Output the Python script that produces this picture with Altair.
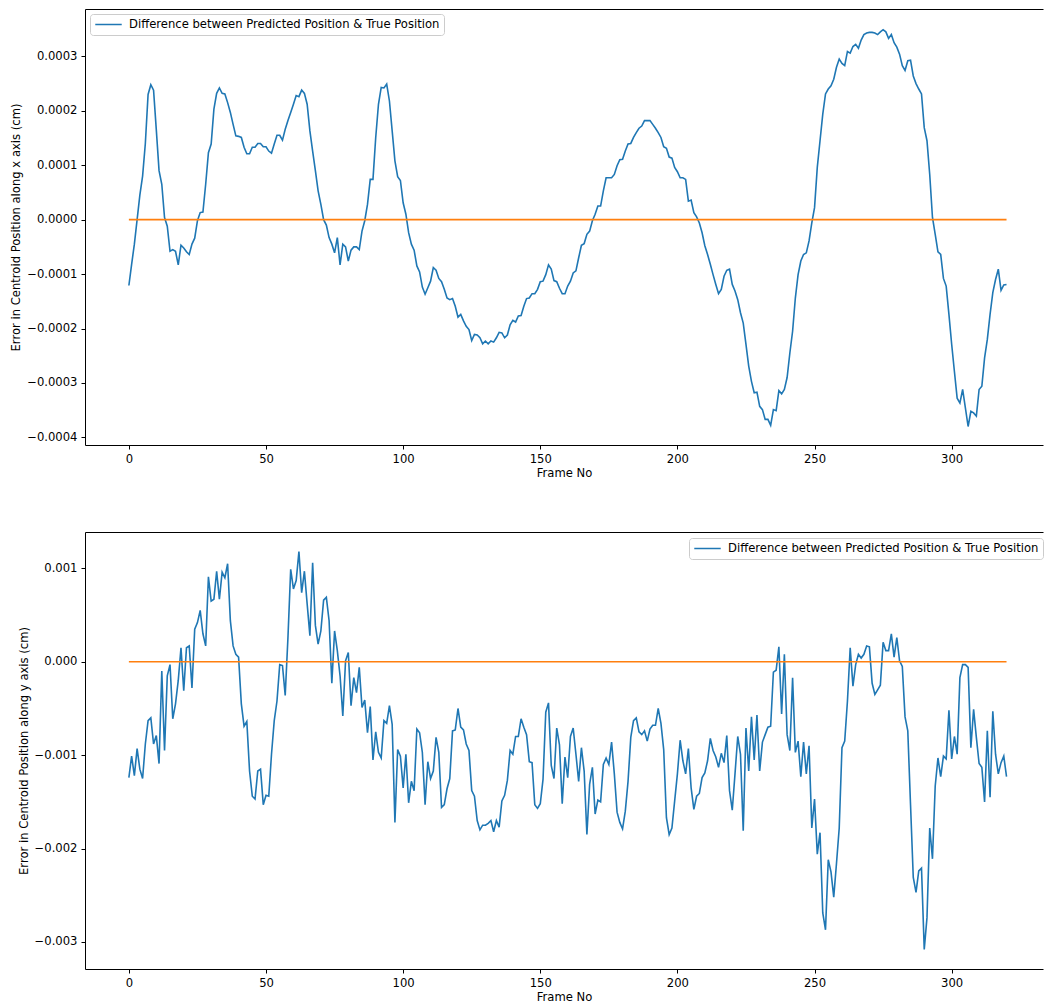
import altair as alt
import pandas as pd

# Centroid error along x for each frame, in units of 1e-4 cm
x_err_e4 = [
    -1.21, -0.82, -0.45, 0.00, 0.45, 0.80, 1.40, 2.30, 2.48, 2.38,
    1.65, 0.90, 0.65, 0.04, -0.12, -0.58, -0.55, -0.58, -0.83, -0.47,
    -0.52, -0.59, -0.64, -0.45, -0.34, -0.02, 0.13, 0.14, 0.65, 1.23,
    1.39, 2.03, 2.32, 2.42, 2.32, 2.31, 2.15, 1.97, 1.75, 1.54,
    1.53, 1.51, 1.33, 1.21, 1.21, 1.33, 1.33, 1.40, 1.40, 1.34,
    1.34, 1.26, 1.22, 1.39, 1.55, 1.55, 1.46, 1.66, 1.82, 1.97,
    2.12, 2.28, 2.26, 2.38, 2.32, 2.12, 1.63, 1.26, 0.90, 0.53,
    0.28, 0.00, -0.10, -0.33, -0.45, -0.61, -0.33, -0.83, -0.45, -0.50,
    -0.76, -0.56, -0.50, -0.50, -0.55, -0.21, -0.02, 0.28, 0.74, 0.74,
    1.51, 2.12, 2.43, 2.42, 2.49, 2.18, 1.63, 1.08, 0.79, 0.72,
    0.31, 0.10, -0.24, -0.45, -0.56, -0.85, -0.96, -1.24, -1.37, -1.25,
    -1.13, -0.88, -0.93, -1.08, -1.14, -1.28, -1.44, -1.47, -1.45, -1.59,
    -1.79, -1.74, -1.86, -1.96, -2.02, -2.22, -2.11, -2.12, -2.17, -2.28,
    -2.23, -2.28, -2.23, -2.25, -2.17, -2.07, -2.08, -2.17, -2.12, -1.93,
    -1.85, -1.88, -1.77, -1.76, -1.59, -1.45, -1.44, -1.36, -1.36, -1.28,
    -1.14, -1.13, -1.01, -0.83, -0.91, -1.12, -1.14, -1.26, -1.36, -1.36,
    -1.22, -1.13, -0.98, -0.94, -0.70, -0.47, -0.44, -0.27, -0.21, -0.02,
    0.10, 0.25, 0.25, 0.53, 0.77, 0.77, 0.77, 0.83, 0.99, 1.10,
    1.11, 1.26, 1.39, 1.40, 1.51, 1.60, 1.68, 1.72, 1.82, 1.82,
    1.82, 1.75, 1.68, 1.60, 1.51, 1.34, 1.31, 1.15, 1.13, 0.96,
    0.88, 0.77, 0.77, 0.74, 0.34, 0.36, 0.13, 0.05, -0.06, -0.24,
    -0.48, -0.64, -0.82, -1.01, -1.19, -1.36, -1.28, -1.04, -0.93, -0.91,
    -1.19, -1.31, -1.47, -1.71, -1.90, -2.29, -2.69, -2.97, -3.18, -3.17,
    -3.43, -3.49, -3.67, -3.67, -3.78, -3.49, -3.51, -3.14, -3.20, -3.12,
    -2.90, -2.45, -2.05, -1.44, -1.01, -0.76, -0.64, -0.61, -0.39, -0.06,
    0.22, 0.96, 1.45, 1.94, 2.31, 2.40, 2.46, 2.58, 2.80, 2.95,
    2.87, 2.83, 3.09, 3.06, 3.18, 3.22, 3.15, 3.30, 3.40, 3.43,
    3.44, 3.44, 3.43, 3.40, 3.45, 3.49, 3.45, 3.33, 3.40, 3.25,
    3.17, 3.04, 2.83, 2.74, 2.92, 2.93, 2.64, 2.50, 2.40, 2.31,
    1.69, 1.45, 0.83, 0.04, -0.27, -0.59, -0.64, -1.08, -1.22, -1.74,
    -2.29, -2.79, -3.28, -3.37, -3.12, -3.46, -3.80, -3.52, -3.55, -3.61,
    -3.12, -3.06, -2.54, -2.20, -1.74, -1.34, -1.10, -0.91, -1.30, -1.20,
    -1.19,
]

# Centroid error along y for each frame, in units of 1e-3 cm
y_err_e3 = [
    -1.24, -1.01, -1.22, -0.93, -1.15, -1.25, -0.88, -0.63, -0.60, -0.88,
    -0.79, -1.09, -0.10, -0.95, -0.15, -0.03, -0.61, -0.45, -0.20, 0.15,
    -0.31, 0.15, 0.17, -0.28, 0.35, 0.42, 0.55, 0.30, 0.17, 0.91,
    0.65, 0.67, 0.97, 0.67, 0.96, 0.90, 1.05, 0.44, 0.17, 0.08,
    0.05, -0.45, -0.69, -0.64, -1.17, -1.44, -1.47, -1.17, -1.15, -1.53,
    -1.43, -1.44, -0.99, -0.63, -0.42, -0.03, -0.04, -0.36, 0.26, 0.99,
    0.78, 0.87, 1.18, 0.74, 0.97, 0.62, 0.28, 1.06, 0.39, 0.19,
    0.33, 0.66, 0.69, 0.44, -0.23, 0.33, 0.12, -0.15, -0.58, 0.01,
    0.10, -0.47, -0.17, -0.33, -0.06, -0.49, -0.41, -0.76, -0.48, -1.05,
    -0.75, -0.97, -1.03, -0.63, -0.66, -0.47, -0.67, -1.72, -0.94, -1.01,
    -1.35, -0.99, -1.51, -1.28, -1.38, -0.72, -0.76, -0.97, -1.53, -1.07,
    -1.25, -1.17, -0.81, -0.97, -1.56, -1.53, -1.36, -1.25, -0.74, -0.73,
    -0.50, -0.70, -0.73, -0.88, -0.95, -1.38, -1.44, -1.70, -1.80, -1.75,
    -1.75, -1.73, -1.70, -1.82, -1.70, -1.77, -1.49, -1.43, -1.27, -0.95,
    -0.99, -0.80, -0.80, -0.61, -0.70, -0.78, -1.07, -1.08, -1.53, -1.57,
    -1.52, -1.26, -0.54, -0.44, -1.11, -1.25, -0.71, -0.89, -1.52, -1.02,
    -1.24, -0.80, -0.71, -0.99, -1.28, -0.92, -1.17, -1.85, -1.31, -1.13,
    -1.63, -1.48, -1.50, -1.10, -1.03, -1.10, -0.86, -1.20, -1.61, -1.72,
    -1.79, -1.60, -1.28, -0.81, -0.63, -0.60, -0.75, -0.78, -0.74, -0.85,
    -0.72, -0.68, -0.68, -0.50, -0.66, -0.94, -1.67, -1.85, -1.78, -1.49,
    -1.20, -0.84, -1.06, -1.20, -0.93, -1.35, -1.58, -1.44, -1.41, -1.24,
    -1.19, -1.06, -0.82, -0.95, -1.02, -1.13, -0.98, -1.08, -0.79, -1.38,
    -1.59, -1.20, -0.80, -0.99, -1.81, -0.71, -1.17, -0.59, -1.05, -0.57,
    -1.17, -0.86, -0.78, -0.70, -0.69, -0.11, -0.09, 0.16, -0.56, 0.08,
    -0.78, -0.95, -0.17, -0.97, -0.85, -1.23, -0.86, -1.20, -0.90, -1.78,
    -1.47, -2.06, -1.83, -2.69, -2.87, -2.12, -2.25, -2.52, -2.16, -1.78,
    -0.92, -0.85, -0.42, 0.15, -0.26, -0.03, 0.08, 0.04, 0.08, 0.17,
    0.16, -0.23, -0.35, -0.30, -0.25, 0.21, 0.12, 0.12, 0.30, 0.05,
    0.26, 0.01, -0.05, -0.59, -0.74, -1.53, -2.31, -2.47, -2.24, -2.21,
    -3.08, -2.74, -1.78, -2.11, -1.33, -1.03, -1.23, -1.01, -1.04, -0.52,
    -1.04, -0.80, -0.99, -0.17, -0.03, -0.03, -0.06, -0.92, -0.51, -0.81,
    -1.09, -1.13, -1.50, -0.74, -1.45, -0.53, -0.99, -1.20, -1.08, -1.01,
    -1.23,
]

# Zero-error reference line
ref_frames = [0, 320]
ref_values = [0.0, 0.0]

series_label = "Difference between Predicted Position & True Position"
x_ticks = [0, 50, 100, 150, 200, 250, 300]
x_domain = [-16, 333.3]
top_domain = [-0.000414, 0.000387]
top_ticks = [-0.0004, -0.0003, -0.0002, -0.0001, 0.0, 0.0001, 0.0002, 0.0003]
bottom_domain = [-0.00329, 0.00139]
bottom_ticks = [-0.003, -0.002, -0.001, 0.0, 0.001]

x_err = [v * 1e-4 for v in x_err_e4]
y_err = [v * 1e-3 for v in y_err_e3]
frames = list(range(len(x_err)))

df = pd.DataFrame({"frame": frames, "x_err": x_err, "y_err": y_err})
df["series"] = series_label
ref_df = pd.DataFrame({"frame": ref_frames, "zero": ref_values})

FONT = "DejaVu Sans"
FS = 11.6
BLUE = "#1f77b4"
ORANGE = "#ff7f0e"
W = 958


def panel(field, domain, ticks, fmt, ytitle, legend, height):
    x_scale = alt.Scale(domain=x_domain, nice=False, zero=False)
    y_scale = alt.Scale(domain=domain, nice=False, zero=False)
    y_axis = alt.Axis(values=ticks, format=fmt, title=ytitle, titlePadding=5)
    diff = alt.Chart(df).mark_line(strokeWidth=1.6, clip=True).encode(
        x=alt.X("frame:Q", scale=x_scale,
                axis=alt.Axis(values=x_ticks, format="d", title="Frame No", titlePadding=3)),
        y=alt.Y(f"{field}:Q", scale=y_scale, axis=y_axis),
        color=alt.Color("series:N",
                        scale=alt.Scale(domain=[series_label], range=[BLUE]),
                        legend=legend),
    )
    # the zero line also carries the top spine of the frame
    zero = alt.Chart(ref_df).mark_line(color=ORANGE, strokeWidth=1.6).encode(
        x=alt.X("frame:Q", scale=x_scale,
                axis=alt.Axis(orient="top", labels=False, ticks=False, title=None)),
        y=alt.Y("zero:Q", scale=y_scale, axis=y_axis),
    )
    return alt.layer(diff, zero).resolve_axis(x="independent").properties(width=W, height=height)


top = panel("x_err", top_domain, top_ticks, ".4f",
            "Error in Centroid Position along x axis (cm)",
            alt.Legend(title=None, orient="top-left", offset=5), 436)
bottom = panel("y_err", bottom_domain, bottom_ticks, ".3f",
               "Error in Centroid Position along y axis (cm)",
               alt.Legend(title=None, orient="none", legendX=604, legendY=6), 437)

chart = (
    alt.vconcat(top, bottom, spacing=52)
    .resolve_scale(color="independent")
    .resolve_legend(color="independent")
    .properties(padding={"left": 10, "top": 9, "right": 0, "bottom": 0}, background="white")
    .configure_view(strokeWidth=0)
    .configure_axis(
        labelFont=FONT, labelFontSize=FS, labelColor="black",
        titleFont=FONT, titleFontSize=FS, titleFontWeight="normal", titleColor="black",
        tickColor="black", tickSize=4, tickWidth=1, domainColor="black", domainWidth=1,
        labelPadding=4, grid=False,
    )
    .configure_legend(
        labelFont=FONT, labelFontSize=FS, labelColor="black", labelLimit=0,
        fillColor="rgba(255,255,255,0.8)", strokeColor="#cccccc", cornerRadius=3,
        padding=4, symbolType="stroke", symbolSize=700, symbolStrokeWidth=1.6,
        labelOffset=6, clipHeight=13,
    )
)

chart.save("out.html", embed_options={"renderer": "svg", "actions": False})
